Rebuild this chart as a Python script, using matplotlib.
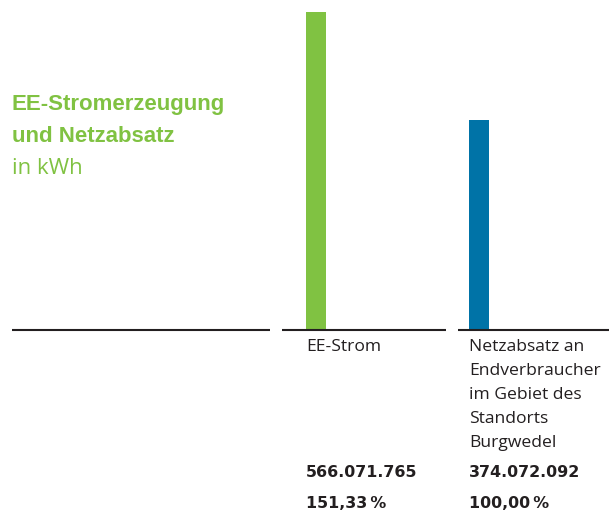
import matplotlib
matplotlib.use("Agg")
import matplotlib.pyplot as plt

# Data
categories = ["EE-Strom", "Netzabsatz an\nEndverbraucher\nim Gebiet des\nStandorts\nBurgwedel"]
values_mio_kwh = [566.071765, 374.072092]
value_labels = ["566.071.765", "374.072.092"]
percent_labels = ["151,33\u2009%", "100,00\u2009%"]
title_lines = ["EE-Stromerzeugung", "und Netzabsatz"]
unit_label = "in kWh"

GREEN = "#80c242"
BLUE = "#0073a7"
DARK = "#231f20"
REG = ["Open Sans", "DejaVu Sans"]
TBOLD = ["Liberation Sans", "DejaVu Sans"]
NBOLD = ["DejaVu Sans"]

W, H = 614, 514
fig = plt.figure(figsize=(W / 100, H / 100), dpi=100)
fig.patch.set_facecolor("white")

def fy(py):
    return 1 - py / H

def fx(px):
    return px / W

# axes: baseline at pixel 329, top of tallest bar at pixel 12
base_px, top_px = 329.5, 12
ax = fig.add_axes([0, fy(base_px), 1, (base_px - top_px) / H])
ax.set_xlim(0, W)
ax.set_ylim(0, max(values_mio_kwh))
ax.axis("off")

bar_x = [316, 479]
ax.bar(bar_x, values_mio_kwh, width=20, color=[GREEN, BLUE], clip_on=False)

# baseline segments
for x0, x1 in [(12, 270), (282, 446), (458, 609)]:
    ax.plot([x0, x1], [0, 0], color=DARK, lw=1.5, solid_capstyle="butt", clip_on=False)

# title
fig.text(fx(12), fy(110), title_lines[0], color=GREEN, fontsize=16, fontweight="bold",
         family=TBOLD, va="baseline", ha="left")
fig.text(fx(12), fy(142), title_lines[1], color=GREEN, fontsize=16, fontweight="bold",
         family=TBOLD, va="baseline", ha="left")
fig.text(fx(12), fy(174), unit_label, color=GREEN, fontsize=16, fontweight="normal",
         family=REG, va="baseline", ha="left")

label_x = [306, 469]
for lx, cat, vl, pl in zip(label_x, categories, value_labels, percent_labels):
    for i, line in enumerate(cat.split("\n")):
        fig.text(fx(lx), fy(351 + 24 * i), line, color=DARK, fontsize=12.6, family=REG,
                 va="baseline", ha="left")
    fig.text(fx(lx), fy(477), vl, color=DARK, fontsize=11.4, fontweight="bold", family=NBOLD,
             va="baseline", ha="left")
    fig.text(fx(lx), fy(508), pl, color=DARK, fontsize=11.4, fontweight="bold", family=NBOLD,
             va="baseline", ha="left")

fig.savefig("out.png", dpi=100, facecolor="white")
